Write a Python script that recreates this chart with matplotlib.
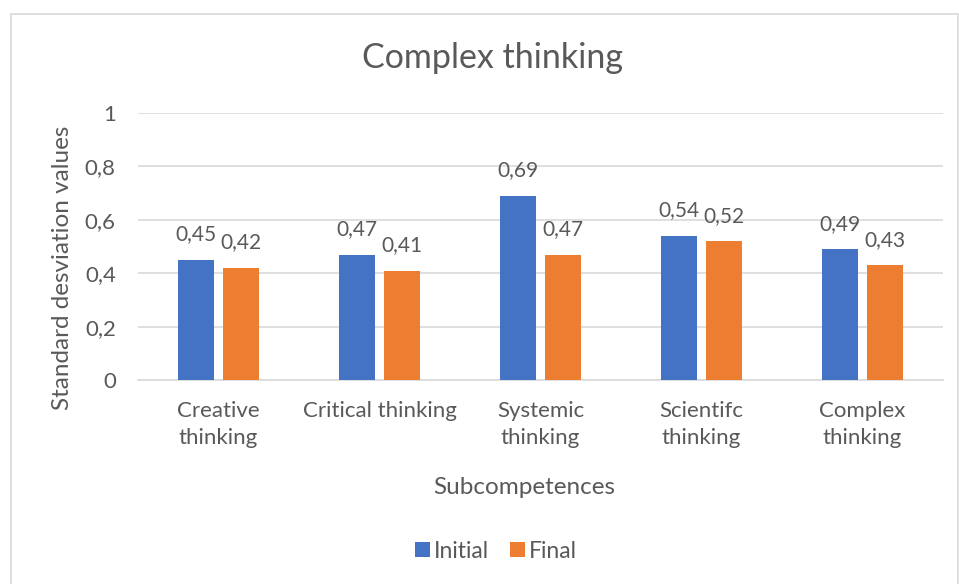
import numpy as np
import matplotlib.pyplot as plt
from matplotlib.patches import Rectangle

plt.rcParams['font.family'] = ['Lato', 'DejaVu Sans']

categories = ['Creative\nthinking', 'Critical thinking', 'Systemic\nthinking',
              'Scientifc\nthinking', 'Complex\nthinking']
initial = [0.45, 0.47, 0.69, 0.54, 0.49]
final = [0.42, 0.41, 0.47, 0.52, 0.43]
yticks = [0, 0.2, 0.4, 0.6, 0.8, 1]

txt = '#595959'
blue = '#4472C4'
orange = '#ED7D31'

fig = plt.figure(figsize=(9.59, 5.84), dpi=100)
# chart frame
fig.patches.append(Rectangle((11 / 959, -0.01), 947 / 959, 1 - 14 / 584 + 0.01,
                             transform=fig.transFigure, fill=False,
                             edgecolor='#D9D9D9', linewidth=1.2))

ax = fig.add_axes([138 / 959, 1 - 380 / 584, 805 / 959, 267 / 584])
x = np.arange(len(categories))
w = 0.224
b1 = ax.bar(x - 0.14, initial, w, color=blue, label='Initial', zorder=3)
b2 = ax.bar(x + 0.14, final, w, color=orange, label='Final', zorder=3)

for bars in (b1, b2):
    for r in bars:
        ax.annotate(f'{r.get_height():.2f}'.replace('.', ','),
                    (r.get_x() + r.get_width() / 2, r.get_height()),
                    xytext=(0, 11), textcoords='offset points',
                    ha='center', va='bottom', fontsize=15, color=txt)

ax.set_xlim(-0.5, 4.5)
ax.set_ylim(0, 1)
ax.set_yticks(yticks)
ax.set_yticklabels([f'{t:g}'.replace('.', ',') for t in yticks], fontsize=16, color=txt)
ax.set_xticks(x)
ax.set_xticklabels(categories, fontsize=16, color=txt, linespacing=1.45)
ax.tick_params(length=0)
ax.tick_params(axis='x', pad=15)
ax.tick_params(axis='y', pad=16)
ax.grid(axis='y', color='#D9D9D9', linewidth=1.2, zorder=0)
for s in ['top', 'right', 'left']:
    ax.spines[s].set_visible(False)
ax.spines['bottom'].set_color('#D9D9D9')
ax.spines['bottom'].set_linewidth(1.2)

fig.text(492 / 959, 1 - 58 / 584, 'Complex thinking', fontsize=24.5, color=txt,
         ha='center', va='center')
fig.text(524 / 959, 1 - 487 / 584, 'Subcompetences', fontsize=17.5, color=txt,
         ha='center', va='center')
fig.text(63 / 959, 1 - 268 / 584, 'Standard desviation values', fontsize=17.5,
         color=txt, ha='center', va='center', rotation=90)

fig.legend(handles=[b1, b2], loc='center', bbox_to_anchor=(496 / 959, 1 - 551 / 584),
           ncol=2, frameon=False, fontsize=16.5, labelcolor=txt,
           handlelength=0.65, handleheight=0.65, handletextpad=0.2, columnspacing=0.9)

fig.savefig('out.png', dpi=100)
